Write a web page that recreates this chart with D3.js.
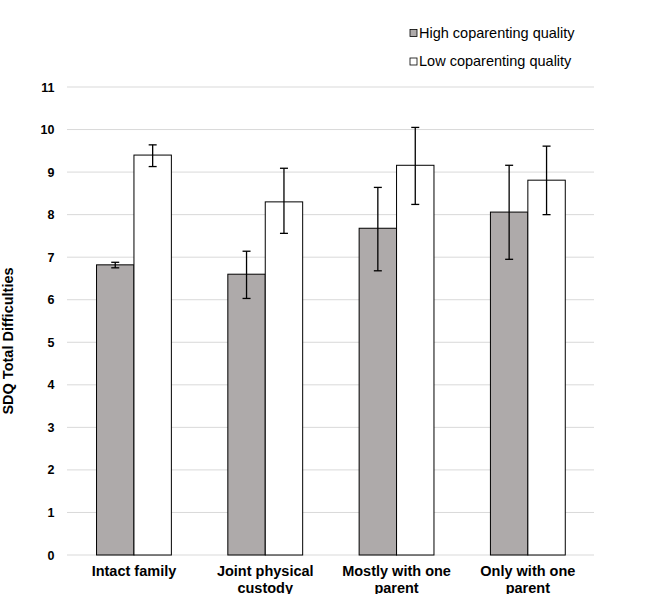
<!DOCTYPE html>
<html><head><meta charset="utf-8">
<script src="https://cdn.jsdelivr.net/npm/d3@7"></script>
<style>body{margin:0;background:#fff;} svg{display:block;font-family:"Liberation Sans",Arial,sans-serif;}</style>
</head><body>
<script>
const categories = [["Intact family"],["Joint physical","custody"],["Mostly with one","parent"],["Only with one","parent"]];
const seriesNames = ["High coparenting quality","Low coparenting quality"];
const highValues = [6.82, 6.60, 7.68, 8.06];
const highErrLow = [6.75, 6.03, 6.68, 6.95];
const highErrHigh = [6.88, 7.14, 8.64, 9.16];
const lowValues = [9.40, 8.30, 9.16, 8.81];
const lowErrLow = [9.13, 7.56, 8.24, 8.00];
const lowErrHigh = [9.64, 9.09, 10.05, 9.61];
const yTicks = [0,1,2,3,4,5,6,7,8,9,10,11];
const colors = ["#aeaaaa", "#ffffff"];

const W = 656, H = 594;
const svg = d3.select("body").append("svg").attr("width", W).attr("height", H);
const x0 = d3.scaleBand().domain(d3.range(categories.length)).range([68.3, 593.5]).paddingInner(0.43).paddingOuter(0.215);
const x1 = d3.scaleBand().domain([0,1]).range([0, x0.bandwidth()]);
const y = d3.scaleLinear().domain([0, 11]).range([555, 87]);

// gridlines
svg.append("g").selectAll("line").data(yTicks).join("line")
  .attr("x1", 67).attr("x2", 594)
  .attr("y1", d => y(d)).attr("y2", d => y(d))
  .attr("stroke", "#d9d9d9").attr("stroke-width", 1);

// y axis labels
const yAxis = d3.axisLeft(y).tickValues(yTicks).tickSize(0).tickPadding(0);
const ya = svg.append("g").attr("transform", "translate(54.5,0)").call(yAxis);
ya.select(".domain").remove();
ya.selectAll("text").attr("font-size", 12.5).attr("font-weight", "bold").attr("fill", "#000")
  .attr("font-family", "Liberation Sans, Arial, sans-serif");

// y title
svg.append("text").attr("transform", `translate(12.5,341) rotate(-90)`)
  .attr("text-anchor", "middle").attr("font-size", 14.5).attr("font-weight", "bold").text("SDQ Total Difficulties");

const series = [
  {vals: highValues, lo: highErrLow, hi: highErrHigh},
  {vals: lowValues, lo: lowErrLow, hi: lowErrHigh}
];
series.forEach((s, si) => {
  const g = svg.append("g");
  g.selectAll("rect").data(s.vals).join("rect")
    .attr("x", (d, i) => x0(i) + x1(si))
    .attr("y", d => y(d))
    .attr("width", x1.bandwidth())
    .attr("height", d => y(0) - y(d))
    .attr("fill", colors[si]).attr("stroke", "#000").attr("stroke-width", 1);
});
// error bars
series.forEach((s, si) => {
  const g = svg.append("g").attr("stroke", "#000").attr("stroke-width", 1.3);
  s.vals.forEach((v, i) => {
    const cx = x0(i) + x1(si) + x1.bandwidth() / 2;
    g.append("line").attr("x1", cx).attr("x2", cx).attr("y1", y(s.lo[i])).attr("y2", y(s.hi[i]));
    g.append("line").attr("x1", cx - 4).attr("x2", cx + 4).attr("y1", y(s.lo[i])).attr("y2", y(s.lo[i]));
    g.append("line").attr("x1", cx - 4).attr("x2", cx + 4).attr("y1", y(s.hi[i])).attr("y2", y(s.hi[i]));
  });
});

// category labels
categories.forEach((lines, i) => {
  const cx = x0(i) + x0.bandwidth() / 2;
  const t = svg.append("text").attr("x", cx).attr("y", 576)
    .attr("text-anchor", "middle").attr("font-size", 14.5).attr("font-weight", "bold");
  lines.forEach((l, j) => t.append("tspan").attr("x", cx).attr("dy", j ? 16.5 : 0).text(l));
});

// legend
seriesNames.forEach((n, i) => {
  const ly = 33 + i * 28.5;
  svg.append("rect").attr("x", 410).attr("y", ly - 3.5).attr("width", 7).attr("height", 7)
    .attr("fill", colors[i]).attr("stroke", "#000").attr("stroke-width", 0.8);
  svg.append("text").attr("x", 419).attr("y", ly + 4.5).attr("font-size", 14.5).text(n);
});
</script>
</body></html>
